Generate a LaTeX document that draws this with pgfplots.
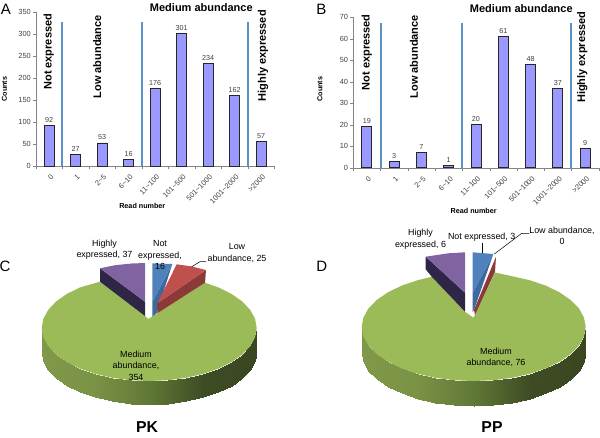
\documentclass[border=0pt]{standalone}
\usepackage{fontspec}
\setmainfont{Liberation Sans}
\usepackage{pgfplots}
\usepackage{pgfplotstable}
\pgfplotsset{compat=1.18}

\definecolor{barfill}{HTML}{9999FF}
\definecolor{sepblue}{HTML}{5A93CC}
\definecolor{txtgray}{HTML}{404040}
\definecolor{axgray}{HTML}{858585}
\definecolor{pgreen}{HTML}{9BBB59}
\definecolor{pred}{HTML}{C0504D}
\definecolor{predw}{HTML}{8C3A38}
\definecolor{pblue}{HTML}{4F81BD}
\definecolor{pbluew}{HTML}{3D6A9E}
\definecolor{ppurple}{HTML}{8064A2}
\definecolor{ppurplew}{HTML}{2F2546}

\newcommand{\fs}[1]{\fontsize{#1}{#1}\selectfont}
\newcommand{\hdr}{\fontsize{11}{13}\selectfont\bfseries}
\newcommand{\pielab}{\fontsize{8.9}{11.5}\selectfont}

\pgfplotstableread{
idx a
0 92
1 27
2 53
3 16
4 176
5 301
6 234
7 162
8 57
}\pk
\pgfplotstableread{
idx b
0 19
1 3
2 7
3 1
4 20
5 61
6 48
7 37
8 9
}\pp

\pgfplotsset{
  readbars/.style={
    scale only axis,
    axis lines*=left,
    axis line style={axgray},
    xmin=-0.5, xmax=8.5, ymin=0,
    xtick={0,...,8},
    xticklabels={0,1,2\textasciitilde5,6\textasciitilde10,11\textasciitilde100,101\textasciitilde500,501\textasciitilde1000,1001\textasciitilde2000,>2000},
    minor xtick={-0.5,0.5,...,8.5},
    tick align=outside,
    major tick length=3pt,
    minor tick length=3pt,
    major x tick style={draw=none},
    minor x tick style={axgray},
    ytick style={axgray},
    /pgf/number format/assume math mode=true,
    tick label style={font=\fs{7.4}, text=txtgray},
    x tick label style={rotate=45, anchor=north east, inner sep=1pt, xshift=-1.5pt, yshift=-3pt},
    y tick label style={inner sep=2pt},
    clip=false,
    nodes near coords,
    every node near coord/.append style={font=\fs{7.2}, text=txtgray, inner sep=2.5pt},
  },
  bars/.style={ybar, bar width=10pt, fill=barfill, draw=black!85, line width=0.9pt},
  sep/.style={sepblue, line width=2pt, no marks, nodes near coords=},
}

\begin{document}
\begin{tikzpicture}
\useasboundingbox (0,0) rectangle (600pt,437pt);

% panel A
\begin{axis}[readbars, at={(36pt,270.7pt)}, width=238.3pt, height=154pt, ymax=350, ytick distance=50]
\addplot[bars] table [x=idx, y=a] {\pk};
\addplot[sep] coordinates {(0.5,0) (0.5,328)};
\addplot[sep] coordinates {(3.5,0) (3.5,328)};
\addplot[sep] coordinates {(7.5,0) (7.5,328)};
\end{axis}

% panel B
\begin{axis}[readbars, at={(353.3pt,269.3pt)}, width=245.4pt, height=150.4pt, ymax=70, ytick distance=10]
\addplot[bars] table [x=idx, y=b] {\pp};
\addplot[sep] coordinates {(0.5,0) (0.5,67.2)};
\addplot[sep] coordinates {(3.5,0) (3.5,67.2)};
\addplot[sep] coordinates {(7.5,0) (7.5,67.2)};
\end{axis}

% pies, in picture pixels
\begin{axis}[
  at={(0pt,0pt)}, scale only axis, width=600pt, height=437pt,
  xmin=0, xmax=600, ymin=0, ymax=437, y dir=reverse,
  hide axis, clip=false,
  point meta rel=per plot,
  colormap={piewall}{rgb255=(128,152,72) rgb255=(122,146,68) rgb255=(96,120,54) rgb255=(62,76,36) rgb255=(58,70,32)},
  every axis plot/.append style={no marks},
]

% C: side wall
\addplot[surf, shader=interp, mesh/cols=19, mesh/rows=2, point meta=x, draw=none] coordinates {
(256.7,328) (255.1,337.2) (250.2,346.1) (242.3,354.5) (231.5,362.1) (218.3,368.6) (203,373.9) (186,377.8) (167.9,380.2) (149.2,381) (130.5,380.2) (112.4,377.8) (95.4,373.9) (80.1,368.6) (66.9,362.1) (56.1,354.5) (48.2,346.1) (43.3,337.2) (41.7,328)
(256.7,351.5) (255.1,360.7) (250.2,369.6) (242.3,378) (231.5,385.6) (218.3,392.1) (203,397.4) (186,401.3) (167.9,403.7) (149.2,404.5) (130.5,403.7) (112.4,401.3) (95.4,397.4) (80.1,392.1) (66.9,385.6) (56.1,378) (48.2,369.6) (43.3,360.7) (41.7,351.5)
};
% C: top of the medium slice
\addplot[fill=pgreen, draw=none] coordinates {
(148.3,319) (157.3,313.3) (205,282.7) (218.3,287.4) (231.5,293.9) (242.3,301.5) (250.2,309.9) (255.1,318.8) (256.7,328) (255.1,337.2) (250.2,346.1) (242.3,354.5) (231.5,362.1) (218.3,368.6) (203,373.9) (186,377.8) (167.9,380.2) (149.2,381) (130.5,380.2) (112.4,377.8) (95.4,373.9) (80.1,368.6) (66.9,362.1) (56.1,354.5) (48.2,346.1) (43.3,337.2) (41.7,328) (43.3,318.8) (48.2,309.9) (56.1,301.5) (66.9,293.9) (80.1,287.4) (100,281.7) (145,316)
} -- cycle;
% C: small slices
\addplot[fill=ppurplew, draw=none] coordinates {(100,268.3) (145,301.7) (145,316) (100,281.7)} -- cycle;
\addplot[fill=ppurple, draw=none] coordinates {(100,268.3) (115,265.2) (131.7,263.5) (145,263) (145,301.7)} -- cycle;
\addplot[fill=pbluew, draw=none] coordinates {(172.3,264) (156.7,313) (152.3,316.7) (152.3,302)} -- cycle;
\addplot[fill=pblue, draw=none] coordinates {(152.3,263.3) (172.3,264) (152.3,302)} -- cycle;
\addplot[fill=predw, draw=none] coordinates {(206,270) (205,282.7) (157.3,313.3) (157.3,303.3)} -- cycle;
\addplot[fill=pred, draw=none] coordinates {(176.7,264.3) (192,266.5) (206,270) (157.3,303.3)} -- cycle;
\addplot[black, line width=0.5pt] coordinates {(191.7,266.7) (200,261.7) (206,261.7)};

% D: side wall
\addplot[surf, shader=interp, mesh/cols=19, mesh/rows=2, point meta=x, draw=none] coordinates {
(585.7,327) (584,336.4) (579,345.5) (570.7,354) (559.5,361.7) (545.7,368.4) (529.7,373.8) (512,377.8) (493.2,380.2) (473.7,381) (454.2,380.2) (435.4,377.8) (417.7,373.8) (401.7,368.4) (387.9,361.7) (376.7,354) (368.4,345.5) (363.4,336.4) (361.7,327)
(585.7,352) (584,361.4) (579,370.5) (570.7,379) (559.5,386.7) (545.7,393.4) (529.7,398.8) (512,402.8) (493.2,405.2) (473.7,406) (454.2,405.2) (435.4,402.8) (417.7,398.8) (401.7,393.4) (387.9,386.7) (376.7,379) (368.4,370.5) (363.4,361.4) (361.7,352)
};
% D: top of the medium slice
\addplot[fill=pgreen, draw=none] coordinates {
(473.3,317.7) (475,315) (495,272.5) (512,276.2) (529.7,280.2) (545.7,285.6) (559.5,292.3) (570.7,300) (579,308.5) (584,317.6) (585.7,327) (584,336.4) (579,345.5) (570.7,354) (559.5,361.7) (545.7,368.4) (529.7,373.8) (512,377.8) (493.2,380.2) (473.7,381) (454.2,380.2) (435.4,377.8) (417.7,373.8) (401.7,368.4) (387.9,361.7) (376.7,354) (368.4,345.5) (363.4,336.4) (361.7,327) (363.4,317.6) (368.4,308.5) (376.7,300) (387.9,292.3) (401.7,285.6) (417.7,280.2) (431.7,276.7) (465,311.7)
} -- cycle;
% D: small slices
\addplot[fill=ppurplew, draw=none] coordinates {(425.7,256.7) (465,292.7) (465,311.7) (431.7,276.7) (425.7,269.3)} -- cycle;
\addplot[fill=ppurple, draw=none] coordinates {(425.7,256.7) (448.3,253.3) (465,252.3) (465,292.7)} -- cycle;
\addplot[fill=predw, draw=none] coordinates {(496,256.7) (495,271.7) (475,315) (474,310)} -- cycle;
\addplot[fill=pbluew, draw=none] coordinates {(493.3,254) (474,310) (472.7,312) (472.7,292.7)} -- cycle;
\addplot[fill=pblue, draw=none] coordinates {(472.7,252.3) (493.3,254) (472.7,292.7)} -- cycle;
\addplot[black, line width=0.5pt] coordinates {(482,243.3) (482,252.7)};
\addplot[black, line width=0.5pt] coordinates {(494.3,254) (521.7,233.3) (529.3,233.3)};

% panel letters and titles
\node[font=\fs{15}] at (axis cs:6,9.5) {A};
\node[font=\fs{15}] at (axis cs:321.3,9.5) {B};
\node[font=\fs{15}] at (axis cs:5,266.7) {C};
\node[font=\fs{15}] at (axis cs:321.7,266.7) {D};
\node[font=\fs{15.8}\bfseries] at (axis cs:147,427) {PK};
\node[font=\fs{15.8}\bfseries] at (axis cs:492,427) {PP};

% A: range labels
\node[font=\hdr] at (axis cs:201.3,7.3) {Medium abundance};
\node[font=\hdr, rotate=90] at (axis cs:48.7,51.7) {Not expressed};
\node[font=\hdr, rotate=90] at (axis cs:97.3,56.7) {Low abundance};
\node[font=\hdr, rotate=90] at (axis cs:263,55.7) {Highly expressed};
\node[font=\fs{7.2}\bfseries, rotate=90] at (axis cs:4.5,89) {Counts};
\node[font=\fs{7.2}\bfseries] at (axis cs:142.3,206) {Read number};

% B: range labels
\node[font=\hdr] at (axis cs:521.3,9) {Medium abundance};
\node[font=\hdr, rotate=90] at (axis cs:366.7,52.3) {Not expressed};
\node[font=\hdr, rotate=90] at (axis cs:414,56.7) {Low abundance};
\node[font=\hdr, rotate=90] at (axis cs:582.3,57.3) {Highly expressed};
\node[font=\fs{7.2}\bfseries, rotate=90] at (axis cs:320,89) {Counts};
\node[font=\fs{7.2}\bfseries] at (axis cs:473.7,210.7) {Read number};

% pie labels
\node[font=\pielab, align=center] at (axis cs:104.5,249.5) {Highly\\expressed, 37};
\node[font=\pielab, align=center] at (axis cs:160,255) {Not\\expressed,\\16};
\node[font=\pielab, align=center] at (axis cs:237,253) {Low\\abundance, 25};
\node[font=\pielab, align=center] at (axis cs:136,365.5) {Medium\\abundance,\\354};
\node[font=\pielab, align=center] at (axis cs:420.5,239) {Highly\\expressed, 6};
\node[font=\pielab] at (axis cs:481.7,236.7) {Not expressed, 3};
\node[font=\pielab, align=center] at (axis cs:562,236) {Low abundance,\\0};
\node[font=\pielab, align=center] at (axis cs:496,357.5) {Medium\\abundance, 76};
\end{axis}
\end{tikzpicture}
\end{document}
